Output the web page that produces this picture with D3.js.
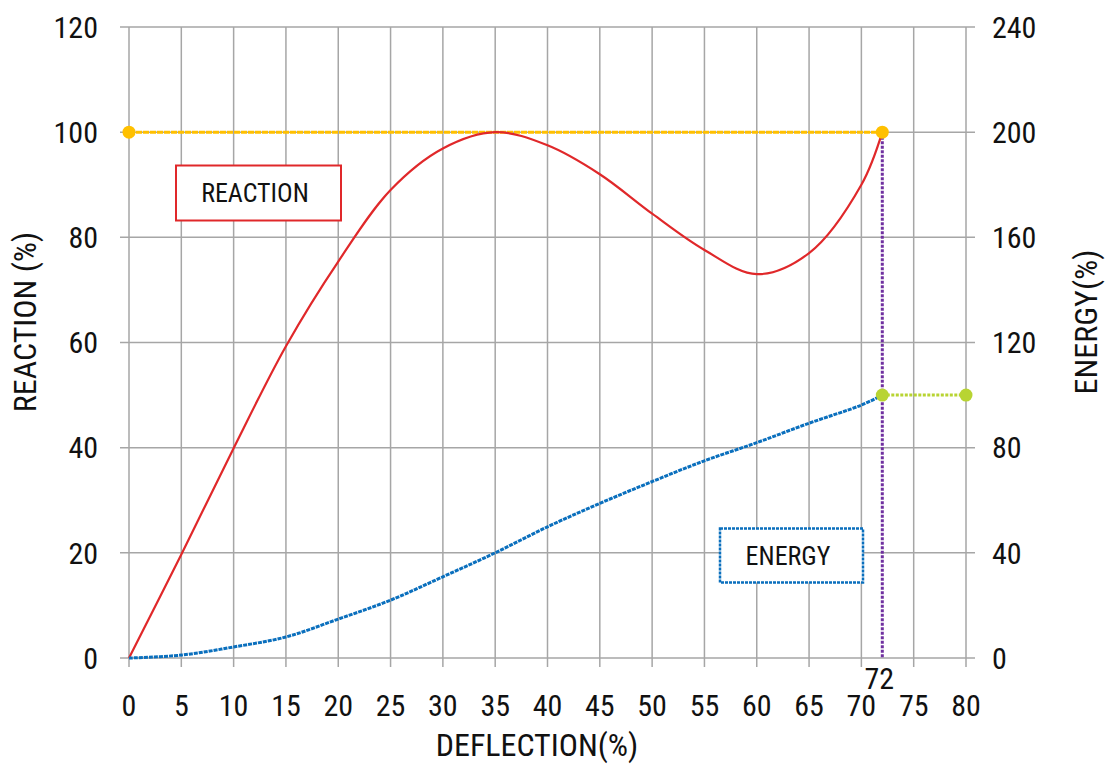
<!DOCTYPE html>
<html><head><meta charset="utf-8">
<script src="https://cdn.jsdelivr.net/npm/d3@7"></script>
<style>body{margin:0;background:#fff}text{font-family:"Liberation Sans Narrow","Roboto Condensed","DejaVu Sans Condensed",sans-serif;fill:#111}</style>
</head><body><svg id="c" width="1107" height="766"></svg>
<script>
const xTicks = [0,5,10,15,20,25,30,35,40,45,50,55,60,65,70,75,80];
const yLeftTicks = [0,20,40,60,80,100,120];
const yRightTicks = [0,40,80,120,160,200,240];
const deflection = [0,5,10,15,20,25,30,35,40,45,50,55,60,65,70,72];
const reaction = [0,19.7,39.9,59.3,75.4,89,96.9,100,97.5,92,84.5,77.6,73,77,90,100];
const energy = [0,1.1,4.2,8,14.8,22,30.9,40,49.9,58.8,67.1,75,81.9,89.3,96.2,100];
const refReaction = [[0,100],[72,100]];
const refEnergy = [[72,100],[80,100]];
const markX = 72;

const svg = d3.select("#c");
const x = d3.scaleLinear().domain([0,80]).range([129,966]);
const yL = d3.scaleLinear().domain([0,120]).range([658,27]);
const yR = d3.scaleLinear().domain([0,240]).range([658,27]);
const grid = "#a6a6a6";

// grid
const g = svg.append("g");
g.selectAll("line.v").data(xTicks).join("line")
  .attr("x1",d=>x(d)).attr("x2",d=>x(d)).attr("y1",yL(120)).attr("y2",yL(0)+9)
  .attr("stroke",grid).attr("stroke-width",1.5);
g.selectAll("line.h").data(yLeftTicks).join("line")
  .attr("y1",d=>yL(d)).attr("y2",d=>yL(d)).attr("x1",x(0)-9).attr("x2",x(80)+9)
  .attr("stroke",grid).attr("stroke-width",1.5);

// tick labels
const fs = 30;
svg.selectAll("text.yl").data(yLeftTicks).join("text")
  .attr("x",98).attr("y",d=>yL(d)).attr("dy","0.36em").attr("text-anchor","end")
  .attr("font-size",fs).text(d=>d);
svg.selectAll("text.yr").data(yRightTicks).join("text")
  .attr("x",992).attr("y",d=>yR(d)).attr("dy","0.36em").attr("text-anchor","start")
  .attr("font-size",fs).text(d=>d);
svg.selectAll("text.xt").data(xTicks).join("text")
  .attr("x",d=>x(d)).attr("y",716).attr("text-anchor","middle")
  .attr("font-size",fs).text(d=>d);
svg.append("text").attr("x",x(markX)-3).attr("y",689).attr("text-anchor","middle")
  .attr("font-size",fs).text(markX);

// axis titles
const ft = 32;
svg.append("text").attr("x",537).attr("y",756).attr("text-anchor","middle").attr("font-size",ft).text("DEFLECTION(%)");
svg.append("text").attr("transform","translate(36,322) rotate(-90)").attr("text-anchor","middle").attr("font-size",ft).text("REACTION (%)");
svg.append("text").attr("transform","translate(1097,322) rotate(-90)").attr("text-anchor","middle").attr("font-size",ft).text("ENERGY(%)");

// reference lines
svg.append("path").datum(refReaction)
  .attr("d",d3.line().x(d=>x(d[0])).y(d=>yL(d[1])))
  .attr("stroke","#ffc000").attr("stroke-width",3).attr("fill","none").attr("stroke-dasharray","6,1");
svg.append("path").datum(refEnergy)
  .attr("d",d3.line().x(d=>x(d[0])).y(d=>yR(d[1])))
  .attr("stroke","#b8d432").attr("stroke-width",3).attr("fill","none").attr("stroke-dasharray","3,1.5");
svg.append("line").attr("x1",x(markX)).attr("x2",x(markX)).attr("y1",yL(100)).attr("y2",yL(0))
  .attr("stroke","#7030a0").attr("stroke-width",3).attr("stroke-dasharray","3,1.5");

// series
const rData = deflection.map((d,i)=>[d,reaction[i]]);
const eData = deflection.map((d,i)=>[d,energy[i]]);
svg.append("path").datum(rData)
  .attr("d",d3.line().x(d=>x(d[0])).y(d=>yL(d[1])).curve(d3.curveCatmullRom.alpha(0.5)))
  .attr("stroke","#e0282a").attr("stroke-width",2.2).attr("fill","none");
svg.append("path").datum(eData)
  .attr("d",d3.line().x(d=>x(d[0])).y(d=>yR(d[1])).curve(d3.curveCatmullRom.alpha(0.5)))
  .attr("stroke","#0a6fbd").attr("stroke-width",3).attr("fill","none").attr("stroke-dasharray","4,1");

// markers
svg.selectAll("circle.ry").data(refReaction).join("circle")
  .attr("cx",d=>x(d[0])).attr("cy",d=>yL(d[1])).attr("r",6.5).attr("fill","#ffc000");
svg.selectAll("circle.eg").data(refEnergy).join("circle")
  .attr("cx",d=>x(d[0])).attr("cy",d=>yR(d[1])).attr("r",6.5).attr("fill","#b8d432");

// legend boxes
svg.append("rect").attr("x",176).attr("y",165.5).attr("width",165).attr("height",55)
  .attr("fill","#fff").attr("stroke","#e0282a").attr("stroke-width",2);
svg.append("text").attr("x",255).attr("y",193).attr("dy","0.36em").attr("text-anchor","middle").attr("font-size",26).text("REACTION");
svg.append("rect").attr("x",720).attr("y",528.5).attr("width",143).attr("height",54)
  .attr("fill","#fff").attr("stroke","#0a6fbd").attr("stroke-width",2.5).attr("stroke-dasharray","3,1");
svg.append("text").attr("x",788).attr("y",556).attr("dy","0.36em").attr("text-anchor","middle").attr("font-size",26).text("ENERGY");
</script></body></html>
